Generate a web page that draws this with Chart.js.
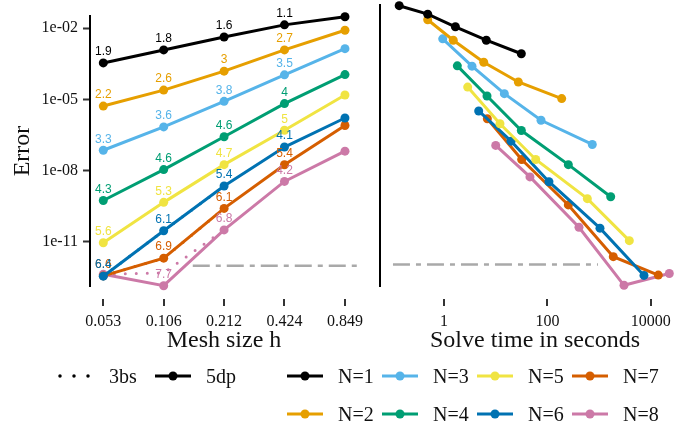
<!DOCTYPE html>
<html lang="en">
<head>
<meta charset="UTF-8">
<title>Error vs mesh size and solve time</title>
<script src="https://cdn.jsdelivr.net/npm/chart.js"></script>
<style>
  body { margin: 0; background: #fff; }
  #wrap { position: relative; width: 696px; height: 435px; overflow: hidden; }
  #wrap canvas { position: absolute; top: 0; }
  #left { left: 0; }
  #right { left: 372px; }
  #legend { position: absolute; left: 0; top: 0; width: 696px; height: 435px; pointer-events: none;
            font-family: 'Liberation Serif', 'Times New Roman', serif; font-size: 20px; color: #111; }
  .item { position: absolute; display: flex; align-items: center; height: 20px; white-space: nowrap; }
  .item svg { margin-right: 15px; }
</style>
</head>
<body>
<div id="wrap">
  <canvas id="left" width="372" height="355"></canvas>
  <canvas id="right" width="324" height="355"></canvas>
  <div id="legend"></div>
</div>
<script>
// mesh sizes on the left panel
const meshSizes = [0.053, 0.106, 0.212, 0.424, 0.849];
const meshLabels = ['0.053', '0.106', '0.212', '0.424', '0.849'];
const errorTicks = [1e-2, 1e-5, 1e-8, 1e-11];
const errorTickLabels = ['1e-02', '1e-05', '1e-08', '1e-11'];
const timeTicks = [1, 100, 10000];
const timeTickLabels = ['1', '100', '10000'];

const seriesNames = ['N=1', 'N=2', 'N=3', 'N=4', 'N=5', 'N=6', 'N=7', 'N=8'];
const seriesColors = ['#000000', '#E69F00', '#56B4E9', '#009E73', '#F0E442', '#0072B2', '#D55E00', '#CC79A7'];

// error per N, for h = 0.053 ... 0.849 (5dp)
const errN1 = [3.4e-4, 1.2e-3, 4.2e-3, 1.36e-2, 3.0e-2];
const errN2 = [5.2e-6, 2.45e-5, 1.53e-4, 1.2e-3, 8.1e-3];
const errN3 = [7.2e-8, 6.9e-7, 8.2e-6, 1.07e-4, 1.36e-3];
const errN4 = [5.5e-10, 1.1e-8, 2.65e-7, 6.6e-6, 1.1e-4];
const errN5 = [9.2e-12, 4.6e-10, 1.78e-8, 5.0e-7, 1.52e-5];
const errN6 = [3.6e-13, 2.95e-11, 2.24e-9, 9.8e-8, 1.64e-6];
const errN7 = [3.7e-13, 2.06e-12, 2.57e-10, 1.77e-8, 7.9e-7];
const errN8 = [4.3e-13, 1.43e-13, 3.2e-11, 3.5e-9, 6.6e-8];
const errors = [errN1, errN2, errN3, errN4, errN5, errN6, errN7, errN8];

// solve time in seconds, same order of h
const timeN1 = [31.3, 6.58, 1.66, 0.484, 0.136];
const timeN2 = [189, 27.4, 5.86, 1.51, 0.484];
const timeN3 = [738, 75.2, 14.7, 3.48, 0.944];
const timeN4 = [1675, 254, 31.3, 6.79, 1.81];
const timeN5 = [3840, 592, 59.4, 12.1, 2.87];
const timeN6 = [7380, 1040, 107, 19.8, 4.69];
const timeN7 = [13960, 1880, 254, 31.8, 6.89];
const timeN8 = [22800, 3030, 408, 46, 10.0];
const times = [timeN1, timeN2, timeN3, timeN4, timeN5, timeN6, timeN7, timeN8];

// 3bs runs (only the fine meshes), h = 0.053, 0.106, 0.212
const bsMesh = [0.053, 0.106, 0.212];
const bsErrN6 = [3.6e-13, 2.95e-11, 2.24e-9];
const bsErrN7 = [3.7e-13, 2.06e-12, 2.57e-10];
const bsErrN8 = [4.3e-13, 4.9e-13, 3.2e-11];
const bsSeries = [[5, bsErrN6], [6, bsErrN7], [7, bsErrN8]];

// convergence rates printed above the points (h = 0.053 ... 0.424)
const rateLabels = [
  ['1.9', '1.8', '1.6', '1.1'],
  ['2.2', '2.6', '3', '2.7'],
  ['3.3', '3.6', '3.8', '3.5'],
  ['4.3', '4.6', '4.6', '4'],
  ['5.6', '5.3', '4.7', '5'],
  ['6.4', '6.1', '5.4', '4.1'],
  ['6.6', '6.9', '6.1', '5.4'],
  ['', '7.7', '6.8', '4.2']
];

// machine precision reference line
const refLevel = 1e-12;
const refMesh = [0.148, 0.986];
const refTime = [0.103, 950];

const serif = "'Liberation Serif', 'Times New Roman', serif";
const sans = "'Liberation Sans', Arial, sans-serif";

function pairs(xs, ys) {
  return xs.map((x, i) => ({ x: x, y: ys[i] }));
}

function solidSet(i, xs) {
  return {
    label: seriesNames[i],
    data: pairs(xs, errors[i]),
    borderColor: seriesColors[i],
    backgroundColor: seriesColors[i],
    borderWidth: 3,
    pointRadius: 4.5,
    pointBorderWidth: 0,
    clip: false,
    order: i
  };
}

function refSet(xs) {
  return {
    label: 'ref',
    data: xs.map(x => ({ x: x, y: refLevel })),
    borderColor: '#a9a9a9',
    borderWidth: 2.5,
    borderDash: [17, 6, 5, 6],
    pointRadius: 0,
    clip: false,
    order: 20
  };
}

// tick marks drawn a bit below the panel, like the original
const lowTicks = {
  id: 'lowTicks',
  afterDraw(chart) {
    const ctx = chart.ctx;
    const sx = chart.scales.x;
    const b = chart.chartArea.bottom;
    ctx.save();
    ctx.strokeStyle = '#333';
    ctx.lineWidth = 2;
    sx.ticks.forEach(t => {
      const px = Math.round(sx.getPixelForValue(t.value));
      ctx.beginPath();
      ctx.moveTo(px, b + 13);
      ctx.lineTo(px, b + 20);
      ctx.stroke();
    });
    ctx.restore();
  }
};

const rateText = {
  id: 'rateText',
  afterDatasetsDraw(chart) {
    const ctx = chart.ctx;
    ctx.save();
    ctx.font = '12px ' + sans;
    ctx.textAlign = 'center';
    ctx.textBaseline = 'middle';
    for (let i = seriesNames.length - 1; i >= 0; i--) {
      const meta = chart.getDatasetMeta(i);
      ctx.fillStyle = seriesColors[i];
      rateLabels[i].forEach((txt, j) => {
        if (!txt) return;
        const p = meta.data[j];
        ctx.fillText(txt, p.x, p.y - 11);
      });
    }
    ctx.restore();
  }
};

function xAxis(min, max, tickVals, tickLbls, title) {
  return {
    type: 'logarithmic',
    min: min,
    max: max,
    afterBuildTicks: s => { s.ticks = tickVals.map(v => ({ value: v })); },
    afterFit: s => { s.height = 69; s.paddingLeft = 0; s.paddingRight = 0; },
    border: { display: false },
    grid: { display: false, drawTicks: false },
    ticks: {
      autoSkip: false, maxRotation: 0, padding: 26,
      color: '#111', font: { family: serif, size: 16 },
      callback: (v, i) => tickLbls[i]
    },
    title: {
      display: true, text: title, color: '#111',
      font: { family: serif, size: 24 }, padding: { top: 0, bottom: 0 }
    }
  };
}

// left panel: error vs mesh size
const leftSets = [];
for (let i = 0; i < seriesNames.length; i++) leftSets.push(solidSet(i, meshSizes));
bsSeries.forEach(([i, ys]) => {
  leftSets.push({
    label: seriesNames[i] + ' 3bs',
    data: pairs(bsMesh, ys),
    borderColor: seriesColors[i],
    borderWidth: 3,
    borderDash: [0, 11],
    borderCapStyle: 'round',
    pointRadius: 0,
    clip: false,
    order: 10
  });
});
leftSets.push(refSet(refMesh));

new Chart(document.getElementById('left'), {
  type: 'line',
  data: { datasets: leftSets },
  options: {
    responsive: false,
    animation: false,
    devicePixelRatio: 1,
    layout: { padding: { top: 16, right: 14, left: 0, bottom: 0 } },
    plugins: { legend: { display: false }, tooltip: { enabled: false } },
    scales: {
      x: xAxis(0.0455, 0.986, meshSizes, meshLabels, 'Mesh size h'),
      y: {
        type: 'logarithmic',
        min: Math.pow(10, -12.857),
        max: Math.pow(10, -1.493),
        afterBuildTicks: s => { s.ticks = errorTicks.map(v => ({ value: v })); },
        afterFit: s => { s.width = 90; s.paddingTop = 0; s.paddingBottom = 0; },
        border: { display: true, color: '#000', width: 2 },
        grid: { display: true, drawOnChartArea: false, drawTicks: true, tickLength: 7, tickWidth: 2, tickColor: '#333' },
        ticks: {
          autoSkip: false, padding: 5, color: '#111',
          font: { family: serif, size: 16 },
          callback: (v, i) => errorTickLabels[i]
        },
        title: {
          display: true, text: 'Error', color: '#111',
          font: { family: serif, size: 24 }, padding: { top: 8, bottom: 0 }
        }
      }
    }
  },
  plugins: [lowTicks, rateText]
});

// right panel: error vs solve time
const rightSets = [];
for (let i = 0; i < seriesNames.length; i++) rightSets.push(solidSet(i, times[i]));
rightSets.push(refSet(refTime));

new Chart(document.getElementById('right'), {
  type: 'line',
  data: { datasets: rightSets },
  options: {
    responsive: false,
    animation: false,
    devicePixelRatio: 1,
    layout: { padding: { top: 5, right: 6, left: 0, bottom: 0 } },
    plugins: { legend: { display: false }, tooltip: { enabled: false } },
    scales: {
      x: xAxis(Math.pow(10, -1.238), Math.pow(10, 4.758), timeTicks, timeTickLabels, 'Solve time in seconds'),
      y: {
        type: 'logarithmic',
        min: Math.pow(10, -12.873),
        max: Math.pow(10, -1.495),
        afterFit: s => { s.width = 8; s.paddingTop = 0; s.paddingBottom = 0; },
        border: { display: true, color: '#000', width: 2 },
        grid: { display: false },
        ticks: { display: false }
      }
    }
  },
  plugins: [lowTicks]
});

// legend below the panels
const legendRowY = [376, 414];
const typeLegendX = [58, 155];
const nLegendX = [287, 382, 477, 572];
const legend = document.getElementById('legend');

function symbol(color, dotted) {
  if (dotted) {
    return '<svg width="36" height="12"><line x1="2" y1="6" x2="34" y2="6" stroke="' + color +
      '" stroke-width="3.5" stroke-linecap="round" stroke-dasharray="0 14"/></svg>';
  }
  return '<svg width="36" height="12"><line x1="0" y1="6" x2="36" y2="6" stroke="' + color +
    '" stroke-width="3"/><circle cx="18" cy="6" r="4.5" fill="' + color + '"/></svg>';
}

function addItem(x, y, color, dotted, text) {
  const d = document.createElement('div');
  d.className = 'item';
  d.style.left = x + 'px';
  d.style.top = (y - 10) + 'px';
  d.innerHTML = symbol(color, dotted) + '<span>' + text + '</span>';
  legend.appendChild(d);
}

addItem(typeLegendX[0], legendRowY[0], '#000', true, '3bs');
addItem(typeLegendX[1], legendRowY[0], '#000', false, '5dp');
seriesNames.forEach((name, i) => {
  addItem(nLegendX[Math.floor(i / 2)], legendRowY[i % 2], seriesColors[i], false, name);
});
</script>
</body>
</html>
